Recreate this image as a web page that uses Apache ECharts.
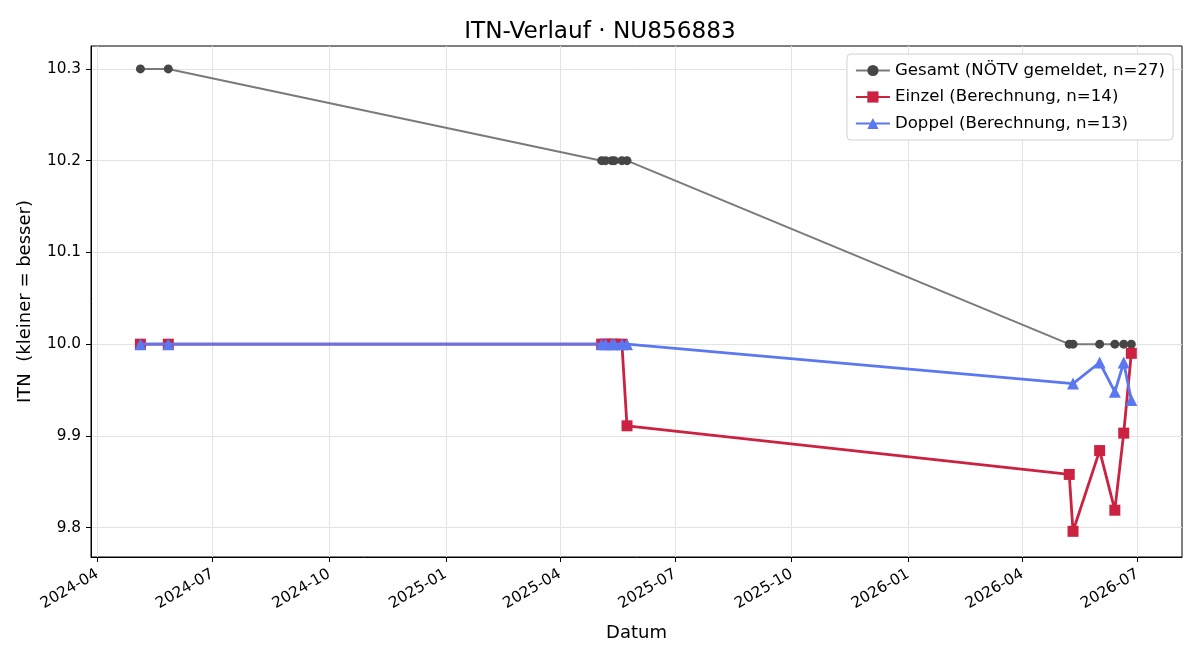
<!DOCTYPE html>
<html>
<head>
<meta charset="utf-8">
<script src="https://cdn.jsdelivr.net/npm/echarts@6/dist/echarts.min.js"></script>
<style>html,body{margin:0;padding:0;background:#fff}#c{width:1200px;height:660px}</style>
</head>
<body>
<div id="c"></div>
<script>
const gesamtDates = ['2024-05-05','2024-05-27','2025-05-04','2025-05-07','2025-05-12','2025-05-14','2025-05-20','2025-05-24','2026-05-08','2026-05-11','2026-06-01','2026-06-13','2026-06-20','2026-06-26'];
const gesamtValues = [10.3,10.3,10.2,10.2,10.2,10.2,10.2,10.2,10.0,10.0,10.0,10.0,10.0,10.0];
const einzelDates = ['2024-05-05','2024-05-27','2025-05-04','2025-05-07','2025-05-12','2025-05-14','2025-05-20','2025-05-24','2026-05-08','2026-05-11','2026-06-01','2026-06-13','2026-06-20','2026-06-26'];
const einzelValues = [10.0,10.0,10.0,10.0,10.0,10.0,10.0,9.911,9.858,9.796,9.884,9.819,9.903,9.990];
const doppelDates = ['2024-05-05','2024-05-27','2025-05-04','2025-05-07','2025-05-12','2025-05-14','2025-05-20','2025-05-24','2026-05-11','2026-06-01','2026-06-13','2026-06-20','2026-06-26'];
const doppelValues = [10.0,10.0,10.0,10.0,10.0,10.0,10.0,10.0,9.957,9.980,9.948,9.980,9.939];
const xTickLabels = ['2024-04','2024-07','2024-10','2025-01','2025-04','2025-07','2025-10','2026-01','2026-04','2026-07'];
const yTickValues = [9.8,9.9,10.0,10.1,10.2,10.3];
const seriesNames = ['Gesamt (NÖTV gemeldet, n=27)','Einzel (Berechnung, n=14)','Doppel (Berechnung, n=13)'];

const ts = s => new Date(s + 'T00:00:00').getTime();
const xTicks = xTickLabels.map(m => ts(m + '-01'));
const pair = (d, v) => d.map((x, i) => [ts(x), v[i]]);
const FONT = 'DejaVu Sans';
const pad2 = n => (n < 10 ? '0' : '') + n;

const chart = echarts.init(document.getElementById('c'), null, {renderer: 'canvas'});
chart.setOption({
  animation: false,
  textStyle: {fontFamily: FONT},
  title: {
    text: 'ITN-Verlauf · NU856883', left: 'center', top: 15,
    textStyle: {fontFamily: FONT, fontSize: 23.2, fontWeight: 'normal', color: '#000'}
  },
  legend: {
    right: 27, top: 54, orient: 'vertical',
    backgroundColor: '#fff', borderColor: '#d0d0d0', borderWidth: 1, borderRadius: 4,
    padding: [8, 8, 8, 8], itemGap: 9.5, itemWidth: 34, itemHeight: 14,
    textStyle: {fontFamily: FONT, fontSize: 16.6, color: '#000'},
    data: seriesNames
  },
  grid: {left: 91, right: 18, top: 46, bottom: 103, show: true, borderColor: '#000', borderWidth: 1, containLabel: false},
  xAxis: {
    type: 'value',
    min: ts('2024-03-27'), max: ts('2026-08-05'),
    name: 'Datum', nameLocation: 'middle', nameGap: 67,
    nameTextStyle: {fontFamily: FONT, fontSize: 18, color: '#000'},
    axisLine: {show: true, lineStyle: {color: '#000', width: 1}},
    axisTick: {show: true, customValues: xTicks, length: 5, lineStyle: {color: '#000'}},
    axisLabel: {
      customValues: xTicks, rotate: 30, margin: 16, fontFamily: FONT, fontSize: 15.3, color: '#000',
      formatter: v => { const d = new Date(v); return d.getFullYear() + '-' + pad2(d.getMonth() + 1); }
    },
    splitLine: {show: true, lineStyle: {color: '#e3e3e3', width: 1}}
  },
  yAxis: {
    type: 'value',
    min: 9.768, max: 10.325,
    name: 'ITN  (kleiner = besser)', nameLocation: 'middle', nameGap: 57,
    nameTextStyle: {fontFamily: FONT, fontSize: 18, color: '#000'},
    axisLine: {show: true, lineStyle: {color: '#000', width: 1}},
    axisTick: {show: true, customValues: yTickValues, length: 5, lineStyle: {color: '#000'}},
    axisLabel: {customValues: yTickValues, margin: 10, fontFamily: FONT, fontSize: 15.3, color: '#000', formatter: v => v.toFixed(1)},
    splitLine: {show: true, lineStyle: {color: '#e3e3e3', width: 1}}
  },
  series: [
    {
      name: seriesNames[0], type: 'line', data: pair(gesamtDates, gesamtValues),
      symbol: 'circle', symbolSize: 9,
      lineStyle: {color: '#7a7a7a', width: 2},
      itemStyle: {color: '#464646'},
      z: 2
    },
    {
      name: seriesNames[1], type: 'line', data: pair(einzelDates, einzelValues),
      symbol: 'rect', symbolSize: 11,
      lineStyle: {color: '#cc2241', width: 2.8},
      itemStyle: {color: '#cc2241'},
      z: 3
    },
    {
      name: seriesNames[2], type: 'line', data: pair(doppelDates, doppelValues),
      symbol: 'triangle', symbolSize: 12,
      lineStyle: {color: '#5b78f0', width: 2.8},
      itemStyle: {color: '#5b78f0'},
      z: 4
    }
  ]
});
</script>
</body>
</html>
